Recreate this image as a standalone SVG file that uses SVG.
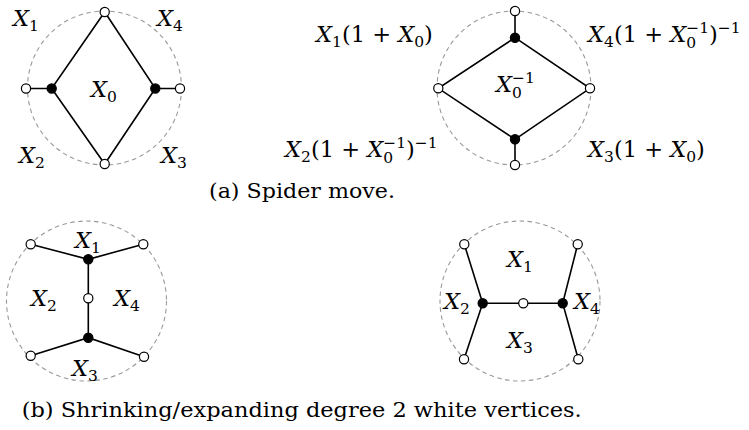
<svg xmlns="http://www.w3.org/2000/svg" width="749" height="430" viewBox="0 0 749 430">
<style>
.bd{fill:none;stroke:#999;stroke-width:1.1;stroke-dasharray:4.5 3.5}
.e{stroke:#000;stroke-width:1.6;fill:none}
.w{fill:#fff;stroke:#000;stroke-width:1.2}
.b{fill:#000;stroke:#000;stroke-width:1.2}
text{font-family:"DejaVu Serif","Liberation Serif",serif;fill:#000}
.m{font-size:22.5px}
.i{font-style:italic}
.s{font-size:15.5px}
.cap{font-size:20px}
</style>
<rect width="749" height="430" fill="#fff"/>
<g id="boundaries">
<circle class="bd" cx="104.5" cy="88" r="77"/>
<circle class="bd" cx="514" cy="88" r="77"/>
<circle class="bd" cx="86.5" cy="301" r="80"/>
<circle class="bd" cx="520" cy="301" r="80"/>
</g>
<g id="connectors">
<path class="e" d="M26,88.5H51.7L104.7,12L155.3,88.5H180M51.7,88.5L104.7,164L155.3,88.5"/>
<path class="e" d="M515,11V37.7L438.3,88.3L515,139.3V165M515,37.7L590,88.3L515,139.3"/>
<path class="e" d="M30.7,244.3L88.3,259.3L143.3,244.3M88.3,259.3V337.7M30.7,355.7L88.3,337.7L144,356.7"/>
<path class="e" d="M464.3,244.3L482.7,303.3L464,359.3M482.7,303.3H562.7M577.7,244.3L562.7,303.3L578.3,359.3"/>
</g>
<g id="d1-w-left"><circle class="w" cx="26" cy="88.5" r="4.6"/></g>
<g id="d1-b-left"><circle class="b" cx="51.7" cy="88.5" r="4.6"/></g>
<g id="d1-w-top"><circle class="w" cx="104.7" cy="12" r="4.6"/></g>
<g id="d1-w-bottom"><circle class="w" cx="104.7" cy="164" r="4.6"/></g>
<g id="d1-b-right"><circle class="b" cx="155.3" cy="88.5" r="4.6"/></g>
<g id="d1-w-right"><circle class="w" cx="180" cy="88.5" r="4.6"/></g>
<g id="d2-w-top"><circle class="w" cx="515" cy="11" r="4.6"/></g>
<g id="d2-b-top"><circle class="b" cx="515" cy="37.7" r="4.6"/></g>
<g id="d2-w-left"><circle class="w" cx="438.3" cy="88.3" r="4.6"/></g>
<g id="d2-w-right"><circle class="w" cx="590" cy="88.3" r="4.6"/></g>
<g id="d2-b-bottom"><circle class="b" cx="515" cy="139.3" r="4.6"/></g>
<g id="d2-w-bottom"><circle class="w" cx="515" cy="165" r="4.6"/></g>
<g id="d3-w-tl"><circle class="w" cx="30.7" cy="244.3" r="4.6"/></g>
<g id="d3-w-tr"><circle class="w" cx="143.3" cy="244.3" r="4.6"/></g>
<g id="d3-b-top"><circle class="b" cx="88.3" cy="259.3" r="4.6"/></g>
<g id="d3-w-mid"><circle class="w" cx="88.3" cy="298.3" r="4.6"/></g>
<g id="d3-b-bottom"><circle class="b" cx="88.3" cy="337.7" r="4.6"/></g>
<g id="d3-w-bl"><circle class="w" cx="30.7" cy="355.7" r="4.6"/></g>
<g id="d3-w-br"><circle class="w" cx="144" cy="356.7" r="4.6"/></g>
<g id="d4-w-tl"><circle class="w" cx="464.3" cy="244.3" r="4.6"/></g>
<g id="d4-w-tr"><circle class="w" cx="577.7" cy="244.3" r="4.6"/></g>
<g id="d4-b-left"><circle class="b" cx="482.7" cy="303.3" r="4.6"/></g>
<g id="d4-w-mid"><circle class="w" cx="523.3" cy="303.3" r="4.6"/></g>
<g id="d4-b-right"><circle class="b" cx="562.7" cy="303.3" r="4.6"/></g>
<g id="d4-w-bl"><circle class="w" cx="464" cy="359.3" r="4.6"/></g>
<g id="d4-w-br"><circle class="w" cx="578.3" cy="359.3" r="4.6"/></g>
<g id="labels">
<text class="m" x="13" y="26"><tspan class="i">X</tspan><tspan class="s" dy="5">1</tspan></text>
<text class="m" x="157" y="26"><tspan class="i">X</tspan><tspan class="s" dy="5">4</tspan></text>
<text class="m" x="19" y="162.7"><tspan class="i">X</tspan><tspan class="s" dy="5">2</tspan></text>
<text class="m" x="161" y="162.7"><tspan class="i">X</tspan><tspan class="s" dy="5">3</tspan></text>
<text class="m" x="91" y="96.7"><tspan class="i">X</tspan><tspan class="s" dy="5">0</tspan></text>

<text class="m" x="316" y="41.7"><tspan class="i">X</tspan><tspan class="s" dy="5">1</tspan><tspan dy="-5">(1 + </tspan><tspan class="i">X</tspan><tspan class="s" dy="5">0</tspan><tspan dy="-5">)</tspan></text>
<text class="m" x="588" y="41.7"><tspan class="i">X</tspan><tspan class="s" dy="5.5">4</tspan><tspan dy="-5.5">(1 + </tspan><tspan class="i">X</tspan><tspan class="s" dy="6">0</tspan><tspan class="s" dx="-9.9" dy="-15">−1</tspan><tspan dy="9">)</tspan><tspan class="s" dy="-9">−1</tspan></text>
<text class="m" x="285" y="156.7"><tspan class="i">X</tspan><tspan class="s" dy="5">2</tspan><tspan dy="-5">(1 + </tspan><tspan class="i">X</tspan><tspan class="s" dy="6">0</tspan><tspan class="s" dx="-9.9" dy="-15">−1</tspan><tspan dy="9">)</tspan><tspan class="s" dy="-9">−1</tspan></text>
<text class="m" x="588" y="156.7"><tspan class="i">X</tspan><tspan class="s" dy="5">3</tspan><tspan dy="-5">(1 + </tspan><tspan class="i">X</tspan><tspan class="s" dy="5">0</tspan><tspan dy="-5">)</tspan></text>
<text class="m" x="496" y="92"><tspan class="i">X</tspan><tspan class="s" dy="6">0</tspan><tspan class="s" dx="-9.9" dy="-15">−1</tspan></text>

<text class="m" x="75" y="248"><tspan class="i">X</tspan><tspan class="s" dy="5">1</tspan></text>
<text class="m" x="31" y="306"><tspan class="i">X</tspan><tspan class="s" dy="5">2</tspan></text>
<text class="m" x="114" y="306"><tspan class="i">X</tspan><tspan class="s" dy="5">4</tspan></text>
<text class="m" x="72" y="376"><tspan class="i">X</tspan><tspan class="s" dy="5">3</tspan></text>

<text class="m" x="507" y="266.5"><tspan class="i">X</tspan><tspan class="s" dy="5">1</tspan></text>
<text class="m" x="444" y="309"><tspan class="i">X</tspan><tspan class="s" dy="5">2</tspan></text>
<text class="m" x="574" y="309"><tspan class="i">X</tspan><tspan class="s" dy="5">4</tspan></text>
<text class="m" x="507" y="348"><tspan class="i">X</tspan><tspan class="s" dy="5">3</tspan></text>
</g>
<g id="captions">
<text class="cap" x="209" y="198" textLength="186" lengthAdjust="spacingAndGlyphs">(a) Spider move.</text>
<text class="cap" x="21.7" y="416.5" textLength="560" lengthAdjust="spacingAndGlyphs">(b) Shrinking/expanding degree 2 white vertices.</text>
</g>
</svg>
